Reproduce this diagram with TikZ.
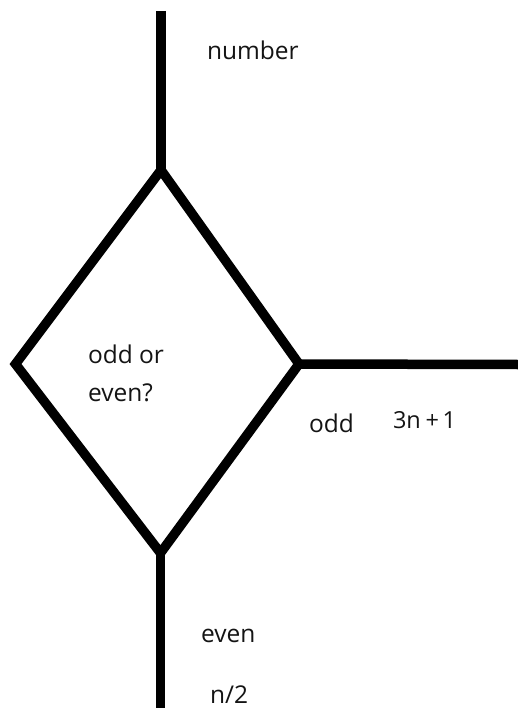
\documentclass[tikz,border=0pt]{standalone}
\usepackage{fontspec}
\setmainfont{Open Sans}
\begin{document}
\begin{tikzpicture}[x=1pt,y=-1pt,
  stroke/.style={line width=9.5pt, line join=miter, line cap=butt, black},
  lbl/.style={anchor=base west, inner sep=0pt, outer sep=0pt, text=black!92,
    font=\fontsize{24.5}{38}\selectfont},
  smalllbl/.style={lbl, font=\fontsize{23.5}{28}\selectfont}]
\useasboundingbox (0,0) rectangle (518,708);
% decision diamond corners
\coordinate (top) at (161,170);
\coordinate (left) at (15.5,364);
\coordinate (right) at (299,364);
\coordinate (bottom) at (160.5,553);
% incoming and outgoing line ends
\coordinate (in) at (161,11);
\coordinate (oddout) at (518,364.5);
\coordinate (evenout) at (160.5,708);
\draw[stroke] (top) -- (right) -- (bottom) -- (left) -- cycle;
\draw[stroke] (in) -- (top);
\draw[stroke] (right) -- (oddout);
\draw[stroke] (bottom) -- (evenout);
% labels (base of the two-line question is its last line)
\node[lbl] (number) at (207,60) {number};
\node[lbl, align=left] (question) at (88,401) {odd or\\even?};
\node[lbl] (oddlbl) at (309,432) {odd};
\node[smalllbl] (oddrule) at (393,428) {3n\hspace{0.2em}+\hspace{0.15em}1};
\node[lbl] (evenlbl) at (201,642) {even};
\node[lbl] (evenrule) at (210,703) {n/2};
\end{tikzpicture}
\end{document}
